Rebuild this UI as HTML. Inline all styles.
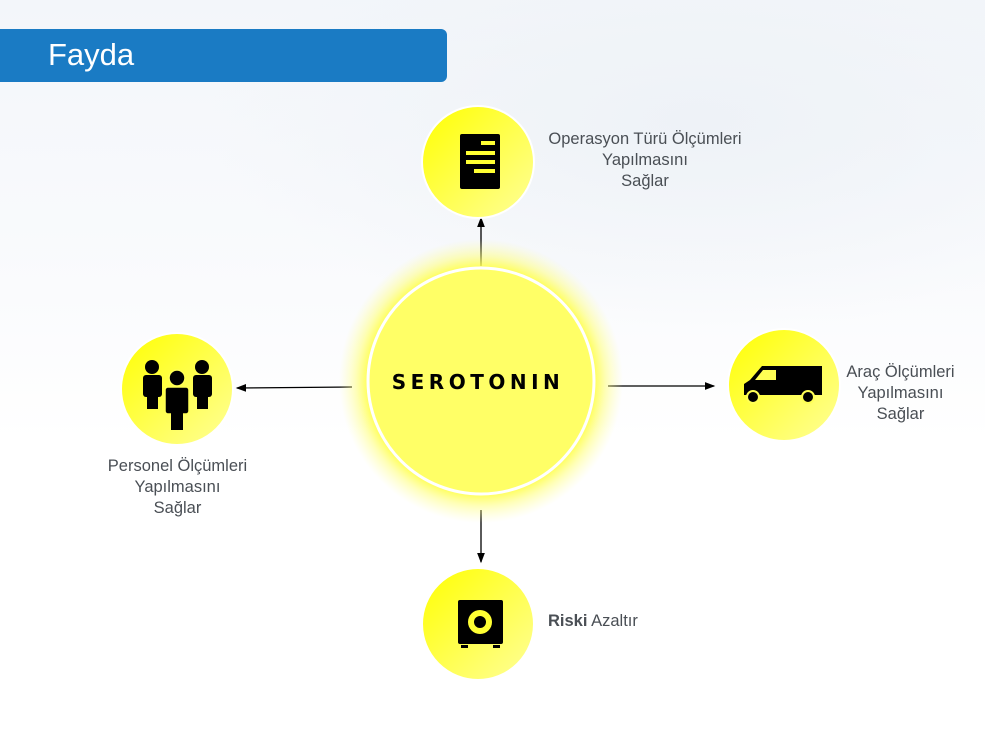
<!DOCTYPE html>
<html><head><meta charset="utf-8"><style>
body{margin:0;width:985px;height:734px;overflow:hidden;background:#fff;font-family:"Liberation Sans",sans-serif}
.bg{position:absolute;left:0;top:0;width:985px;height:734px;background:radial-gradient(ellipse 700px 300px at 700px 120px,#eef2f7 0%,rgba(255,255,255,0) 70%),linear-gradient(180deg,#f3f6fa 0%,#fafbfd 40%,#fff 60%)}
.hdr{position:absolute;left:0;top:29px;width:447px;height:53px;background:#1a7bc4;border-radius:0 6px 6px 0}
.hdr span{position:absolute;left:48px;top:8px;color:#fff;font-size:31px}
.t{position:absolute;color:#4a4f55;font-size:16.5px;text-align:center;line-height:21px}
</style></head><body>
<div class="bg"></div>
<div class="hdr"><span>Fayda</span></div>
<svg width="985" height="734" style="position:absolute;left:0;top:0">
<defs>
<radialGradient id="glow"><stop offset="0.78" stop-color="#ffff40" stop-opacity="1"/><stop offset="0.88" stop-color="#ffff70" stop-opacity="0.5"/><stop offset="1" stop-color="#ffffa0" stop-opacity="0"/></radialGradient>
<linearGradient id="yg" x1="0" y1="0" x2="1" y2="1"><stop offset="0" stop-color="#ffff00"/><stop offset="1" stop-color="#ffff99"/></linearGradient>
<marker id="ar" markerWidth="8" markerHeight="8" refX="7" refY="4" orient="auto"><path d="M0,1 L8,4 L0,7 z" fill="#000"/></marker>
</defs>
<g stroke="#000" stroke-width="1.3" marker-end="url(#ar)">
<line x1="481" y1="266" x2="481" y2="218"/>
<line x1="352" y1="387" x2="237" y2="388"/>
<line x1="608" y1="386" x2="714" y2="386"/>
<line x1="481" y1="510" x2="481" y2="562"/>
</g>
<circle cx="481" cy="381" r="142" fill="url(#glow)"/>
<circle cx="481" cy="381" r="113" fill="#ffff66" stroke="#fff" stroke-width="3"/>
<text x="478" y="389" text-anchor="middle" font-family="'DejaVu Sans',sans-serif" font-weight="bold" font-size="20" letter-spacing="4.5" fill="#000">SEROTONIN</text>
<g fill="url(#yg)" stroke="#fff" stroke-width="2">
<circle cx="478" cy="162" r="56"/>
<circle cx="177" cy="389" r="56"/>
<circle cx="784" cy="385" r="56"/>
<circle cx="478" cy="624" r="56"/>
</g>
<rect x="460" y="134" width="40" height="55" rx="2" fill="#000"/>
<g fill="#ffff33"><rect x="481" y="141" width="14" height="4"/><rect x="466" y="151" width="29" height="4"/><rect x="466" y="160" width="29" height="4"/><rect x="474" y="169" width="21" height="4"/></g>
<g fill="#000">
<circle cx="152" cy="367" r="7"/><rect x="143" y="375" width="19" height="22" rx="3"/><rect x="147" y="390" width="11" height="19"/>
<circle cx="202" cy="367" r="7"/><rect x="193" y="375" width="19" height="22" rx="3"/><rect x="197" y="390" width="11" height="19"/>
<circle cx="177" cy="378" r="8" stroke="#ffff55" stroke-width="1.5"/><rect x="165" y="387" width="24" height="27" rx="3" stroke="#ffff55" stroke-width="1.5"/><rect x="171" y="405" width="12" height="25"/>
</g>
<g fill="#000">
<path d="M762,366 L822,366 L822,395 L744,395 L744,384 L750,380 Z"/>
<path d="M763,370 L776,370 L776,380 L755,380 Z" fill="#ffff55"/>
<circle cx="753" cy="397" r="6" stroke="#ffff55" stroke-width="2"/>
<circle cx="808" cy="397" r="6" stroke="#ffff55" stroke-width="2"/>
</g>
<rect x="458" y="600" width="45" height="44" rx="2" fill="#000"/>
<rect x="461" y="645" width="7" height="3" fill="#000"/><rect x="493" y="645" width="7" height="3" fill="#000"/>
<circle cx="480" cy="622" r="12" fill="#ffff33"/>
<circle cx="480" cy="622" r="6" fill="#000"/>
</svg>
<div class="t" style="left:535px;top:129px;width:220px">Operasyon Türü Ölçümleri<br>Yapılmasını<br>Sağlar</div>
<div class="t" style="left:80px;top:456px;width:195px">Personel Ölçümleri<br>Yapılmasını<br>Sağlar</div>
<div class="t" style="left:843px;top:362px;width:115px">Araç Ölçümleri<br>Yapılmasını<br>Sağlar</div>
<div class="t" style="left:548px;top:611px;text-align:left"><b>Riski</b> Azaltır</div>
</body></html>
